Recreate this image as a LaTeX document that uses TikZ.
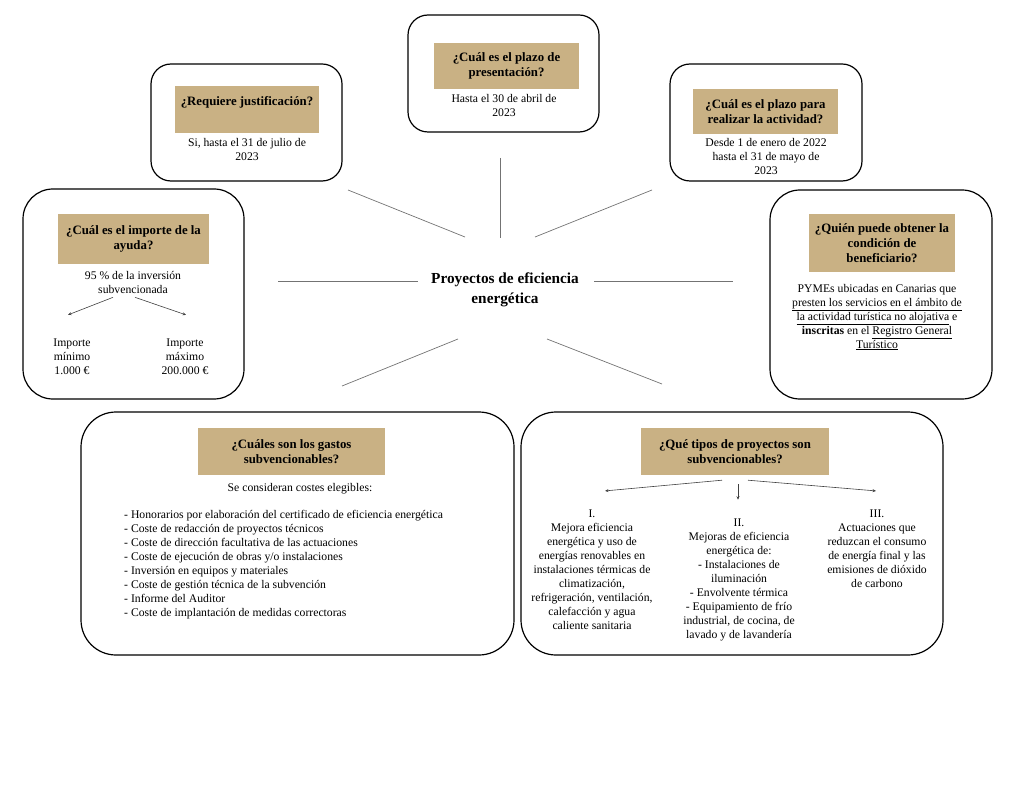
\documentclass[tikz,border=0pt]{standalone}
\usepackage{fontspec}
\setmainfont{Liberation Serif}
\usepackage{xcolor}
\usepackage{tikz}
\usetikzlibrary{arrows.meta,positioning}
\definecolor{arena}{RGB}{201,177,132}
\definecolor{spokegray}{RGB}{115,115,115}
\newcommand{\BodySize}{\fontsize{11.7}{14}\selectfont}
\tikzset{
  panel/.style={draw, line width=1.2pt, rounded corners=#1, inner sep=0pt}, % outer card
  panel/.default=20pt,
  head/.style={fill=arena, inner sep=0pt, align=center,
    font=\bfseries\fontsize{12.8}{15}\selectfont},                      % tan question band
  body/.style={align=center, inner sep=0pt, font=\BodySize},
  title/.style={align=center, inner sep=0pt, font=\bfseries\fontsize{15.3}{20}\selectfont},
  spoke/.style={draw=spokegray, line width=0.7pt},
  branch/.style={-{Stealth[length=3.5pt,width=3pt]}, line width=0.6pt, draw=black!75}
}

\begin{document}
\begin{tikzpicture}[x=1pt,y=-1pt]
  \useasboundingbox (0,0) rectangle (1024,791);
  % centre
  \node[title] (centro) at (505,290) {Proyectos de eficiencia\\energética};
  % spokes round the centre
  \foreach \n/\ax/\ay/\bx/\by in {N/500/158/500/238, NW/348/190/465/237,
      NE/652/190/535/237, W/278/281/418/281, E/594/281/733/281,
      SW/342/386/458/339, SE/662/384/547/339}{
    \coordinate (s\n a) at (\ax,\ay);
    \coordinate (s\n b) at (\bx,\by);
    \draw[spoke] (s\n a) -- (s\n b);
  }

  % plazo de presentacion
  \node[panel, minimum width=191pt, minimum height=117pt] (plazoP) at (503.5,73.5) {};
  \node[head, minimum width=145pt, minimum height=46pt] (plazoH) at (506.5,66)
    {¿Cuál es el plazo de\\presentación?};
  \node[body] (plazoT) at (504,106) {Hasta el 30 de abril de\\2023};

  % justificacion
  \node[panel, minimum width=191pt, minimum height=117pt] (justP) at (246.5,122.5) {};
  \node[head, minimum width=144pt, minimum height=47pt] (justH) at (247,109.5)
    {¿Requiere justificación?\\[2pt]~};
  \node[body] (justT) at (247,150) {Si, hasta el 31 de julio de\\2023};

  % plazo actividad
  \node[panel, minimum width=192pt, minimum height=117pt] (actP) at (766,122.5) {};
  \node[head, minimum width=145pt, minimum height=45pt] (actH) at (765.5,111.5)
    {¿Cuál es el plazo para\\realizar la actividad?};
  \node[body] (actT) at (766,157) {Desde 1 de enero de 2022\\hasta el 31 de mayo de\\2023};

  % importe
  \node[panel=30pt, minimum width=221pt, minimum height=210pt] (impP) at (133.5,294) {};
  \node[head, minimum width=151pt, minimum height=50pt] (impH) at (133.5,239)
    {¿Cuál es el importe de la\\ayuda?};
  \node[body] (impT) at (133,282) {95 \% de la inversión\\subvencionada};
  \node[body] (impMin) at (72,357) {Importe\\mínimo\\1.000 €};
  \node[body] (impMax) at (185,357) {Importe\\máximo\\200.000 €};
  \draw[branch] ([xshift=-20pt,yshift=-4pt]impT.south) -- ([xshift=-4pt,yshift=24pt]impMin.north);
  \draw[branch] ([xshift=2pt,yshift=-4pt]impT.south) -- ([xshift=1pt,yshift=24pt]impMax.north);

  % beneficiario
  \node[panel=30pt, minimum width=222pt, minimum height=209pt] (benP) at (881,294.5) {};
  \node[head, minimum width=146pt, minimum height=58pt] (benH) at (882,243)
    {¿Quién puede obtener la\\condición de\\beneficiario?};
  \node[body] (benT) at (877,317) {PYMEs ubicadas en Canarias que\\
    \underline{presten los servicios en el ámbito de}\\
    \underline{la actividad turística no alojativa} e\\
    \textbf{inscritas} en el \underline{Registro General}\\
    \underline{Turístico}};

  % gastos
  \node[panel=35pt, minimum width=433pt, minimum height=243pt] (gasP) at (297.5,533.5) {};
  \node[head, minimum width=187pt, minimum height=47pt] (gasH) at (291.5,451.5)
    {¿Cuáles son los gastos\\subvencionables?};
  \node[body] (gasT) at (300,489) {Se consideran costes elegibles:};
  \node[body, align=left, anchor=west] (gasL) at (124,565) {%
    - Honorarios por elaboración del certificado de eficiencia energética\\
    - Coste de redacción de proyectos técnicos\\
    - Coste de dirección facultativa de las actuaciones\\
    - Coste de ejecución de obras y/o instalaciones\\
    - Inversión en equipos y materiales\\
    - Coste de gestión técnica de la subvención\\
    - Informe del Auditor\\
    - Coste de implantación de medidas correctoras};

  % tipos de proyectos
  \node[panel=35pt, minimum width=422pt, minimum height=243pt] (tipP) at (732,533.5) {};
  \node[head, minimum width=188pt, minimum height=47pt] (tipH) at (735,451.5)
    {¿Qué tipos de proyectos son\\subvencionables?};
  \node[body] (colI) at (592,570) {I.\\Mejora eficiencia\\energética y uso de\\
    energías renovables en\\instalaciones térmicas de\\climatización,\\
    refrigeración, ventilación,\\calefacción y agua\\caliente sanitaria};
  \node[body] (colII) at (739,580) {II.\\Mejoras de eficiencia\\energética de:\\
    - Instalaciones de\\iluminación\\- Envolvente térmica\\- Equipamiento de frío\\
    industrial, de cocina, de\\lavado y de lavandería};
  \node[body] (colIII) at (877,549) {III.\\Actuaciones que\\reduzcan el consumo\\
    de energía final y las\\emisiones de dióxido\\de carbono};
  \draw[branch] ([xshift=-13pt,yshift=-5pt]tipH.south) -- ([xshift=13pt,yshift=19pt]colI.north);
  \draw[branch] ([xshift=3pt,yshift=-9pt]tipH.south) -- ([xshift=-1pt,yshift=19pt]colII.north);
  \draw[branch] ([xshift=13pt,yshift=-5pt]tipH.south) -- ([xshift=-1pt,yshift=19pt]colIII.north);
\end{tikzpicture}
\end{document}
